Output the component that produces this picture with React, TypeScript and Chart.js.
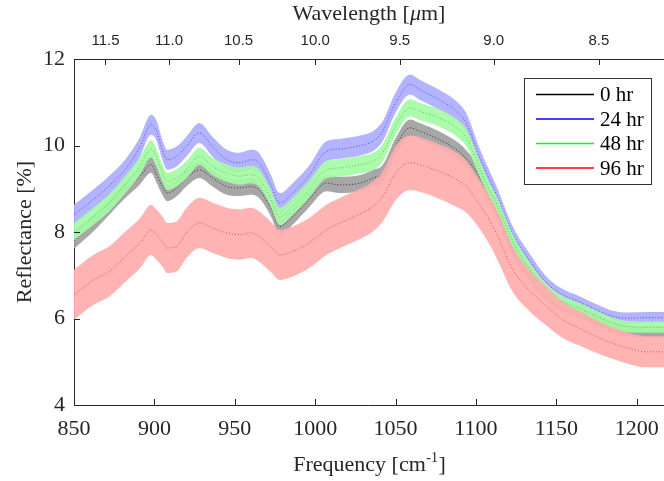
import React, { useEffect, useRef } from 'react';
import { Chart, registerables } from 'chart.js';

Chart.register(...registerables);

// ---------- data ----------
const freq = [850, 862, 872, 882, 891, 898, 901, 905, 908, 914, 920, 928, 936, 945, 953, 960, 965, 972, 978, 986, 996, 1007, 1015, 1028, 1036, 1042, 1050, 1059, 1065, 1077, 1088, 1094, 1102, 1108, 1113, 1123, 1133, 1144, 1154, 1164, 1175, 1185, 1195, 1206, 1216, 1220];

const seriesLabels = ['0 hr', '24 hr', '48 hr', '96 hr'];

const mean0 = [7.8, 8.2, 8.59, 8.98, 9.29, 9.56, 9.36, 9.05, 8.9, 9.02, 9.25, 9.44, 9.25, 9.05, 9.02, 9.05, 8.98, 8.59, 8.13, 8.36, 8.75, 9.13, 9.09, 9.13, 9.25, 9.36, 9.98, 10.41, 10.33, 10.14, 9.9, 9.7, 9.3, 8.85, 8.5, 7.6, 7.05, 6.55, 6.3, 6.15, 5.97, 5.82, 5.72, 5.7, 5.7, 5.7];
const err0 = [0.19, 0.19, 0.19, 0.19, 0.19, 0.19, 0.19, 0.19, 0.19, 0.19, 0.19, 0.19, 0.19, 0.19, 0.19, 0.19, 0.19, 0.19, 0.19, 0.19, 0.19, 0.19, 0.19, 0.19, 0.19, 0.19, 0.19, 0.19, 0.19, 0.19, 0.19, 0.19, 0.18, 0.18, 0.17, 0.16, 0.15, 0.14, 0.13, 0.13, 0.13, 0.13, 0.13, 0.13, 0.13, 0.13];

const mean24 = [8.4, 8.75, 9.07, 9.45, 9.96, 10.48, 10.37, 9.9, 9.67, 9.75, 9.98, 10.29, 9.98, 9.67, 9.6, 9.67, 9.6, 9.13, 8.67, 8.9, 9.29, 9.87, 9.92, 10.0, 10.1, 10.33, 10.99, 11.41, 11.29, 11.06, 10.79, 10.52, 9.75, 9.25, 8.85, 7.95, 7.36, 6.82, 6.55, 6.39, 6.2, 6.05, 6.01, 6.02, 6.02, 6.02];
const err24 = [0.23, 0.23, 0.23, 0.23, 0.23, 0.23, 0.23, 0.23, 0.23, 0.23, 0.23, 0.23, 0.23, 0.23, 0.23, 0.23, 0.23, 0.23, 0.23, 0.23, 0.23, 0.23, 0.23, 0.23, 0.23, 0.23, 0.23, 0.23, 0.23, 0.23, 0.23, 0.23, 0.21, 0.2, 0.19, 0.17, 0.16, 0.14, 0.13, 0.13, 0.13, 0.13, 0.13, 0.13, 0.13, 0.13];

const mean48 = [8.01, 8.36, 8.68, 9.1, 9.52, 9.92, 9.75, 9.36, 9.17, 9.25, 9.44, 9.75, 9.52, 9.36, 9.29, 9.33, 9.25, 8.82, 8.36, 8.59, 8.98, 9.44, 9.48, 9.56, 9.63, 9.83, 10.44, 10.87, 10.79, 10.64, 10.41, 10.18, 9.5, 9.0, 8.65, 7.78, 7.17, 6.66, 6.39, 6.24, 6.05, 5.89, 5.81, 5.8, 5.8, 5.8];
const err48 = [0.2, 0.2, 0.2, 0.2, 0.2, 0.2, 0.2, 0.2, 0.2, 0.2, 0.2, 0.2, 0.2, 0.2, 0.2, 0.2, 0.2, 0.2, 0.2, 0.2, 0.2, 0.2, 0.2, 0.2, 0.2, 0.2, 0.2, 0.2, 0.2, 0.2, 0.2, 0.2, 0.19, 0.18, 0.17, 0.16, 0.15, 0.14, 0.13, 0.13, 0.13, 0.13, 0.13, 0.13, 0.13, 0.13];

const mean96 = [6.55, 6.89, 7.09, 7.43, 7.74, 8.05, 7.95, 7.78, 7.63, 7.67, 7.98, 8.21, 8.1, 7.98, 7.94, 7.98, 7.9, 7.67, 7.47, 7.55, 7.74, 8.05, 8.2, 8.42, 8.59, 8.82, 9.36, 9.6, 9.56, 9.4, 9.21, 9.05, 8.65, 8.3, 7.95, 7.13, 6.66, 6.28, 5.97, 5.78, 5.58, 5.43, 5.31, 5.23, 5.23, 5.23];
const err96 = [0.58, 0.58, 0.58, 0.58, 0.58, 0.58, 0.58, 0.58, 0.58, 0.58, 0.58, 0.58, 0.58, 0.58, 0.58, 0.58, 0.58, 0.58, 0.58, 0.58, 0.58, 0.58, 0.58, 0.58, 0.58, 0.58, 0.63, 0.63, 0.63, 0.63, 0.63, 0.6, 0.56, 0.56, 0.56, 0.52, 0.48, 0.45, 0.42, 0.4, 0.38, 0.36, 0.36, 0.36, 0.36, 0.36];

const freqTicks = [850, 900, 950, 1000, 1050, 1100, 1150, 1200];
const wavelengthTicks = [11.5, 11.0, 10.5, 10.0, 9.5, 9.0, 8.5];
const yTicks = [4, 6, 8, 10, 12];

// ---------- styles ----------
const X_MIN = 850;
const X_MAX = 1217;
const AXIS = '#262626';
const SERIF = '"Liberation Serif", "Times New Roman", serif';
const SANS = '"Liberation Sans", Arial, sans-serif';
const bandColors = ['rgba(160,160,160,0.92)', 'rgba(172,172,255,0.92)', 'rgba(165,250,165,0.92)', 'rgba(255,172,172,0.92)'];
const meanColors = ['rgba(0,0,0,0.7)', 'rgba(0,0,255,0.6)', 'rgba(0,190,0,0.6)', 'rgba(255,0,0,0.6)'];
const legendColors = ['#000000', '#0000ff', '#00ff00', '#ff0000'];

const decorPlugin = {
  id: 'decor',
  afterDraw(chart: any) {
    const { ctx, chartArea: ca, scales } = chart;
    const TL = 6;
    ctx.save();
    // inward tick marks
    ctx.strokeStyle = AXIS;
    ctx.lineWidth = 1;
    ctx.beginPath();
    scales.x.ticks.forEach((t: any) => {
      const px = Math.round(scales.x.getPixelForValue(t.value)) + 0.5;
      ctx.moveTo(px, ca.bottom);
      ctx.lineTo(px, ca.bottom - TL);
    });
    scales.x2.ticks.forEach((t: any) => {
      const px = Math.round(scales.x2.getPixelForValue(t.value)) + 0.5;
      ctx.moveTo(px, ca.top);
      ctx.lineTo(px, ca.top + TL);
    });
    scales.y.ticks.forEach((t: any) => {
      const py = Math.round(scales.y.getPixelForValue(t.value)) + 0.5;
      ctx.moveTo(ca.left, py);
      ctx.lineTo(ca.left + TL, py);
    });
    ctx.stroke();

    // legend
    const bx = 524.5, by = 78.5, bw = 127, bh = 106;
    ctx.fillStyle = '#ffffff';
    ctx.fillRect(bx, by, bw, bh);
    ctx.strokeStyle = '#333333';
    ctx.lineWidth = 1;
    ctx.strokeRect(bx, by, bw, bh);
    ctx.font = `21px ${SERIF}`;
    ctx.textAlign = 'left';
    ctx.textBaseline = 'middle';
    seriesLabels.forEach((lab, i) => {
      const ly = 94.5 + i * 24.5;
      ctx.strokeStyle = legendColors[i];
      ctx.lineWidth = 1.3;
      ctx.beginPath();
      ctx.moveTo(536, ly);
      ctx.lineTo(594, ly);
      ctx.stroke();
      ctx.fillStyle = '#000000';
      ctx.fillText(lab, 600, ly + 1);
    });

    // axis titles
    ctx.fillStyle = AXIS;
    ctx.textBaseline = 'alphabetic';
    const cx = (ca.left + ca.right) / 2;
    // top title: Wavelength [μm] with italic μ
    const nf = `22px ${SERIF}`;
    const itf = `italic 22px ${SERIF}`;
    ctx.font = nf;
    const a1 = 'Wavelength [';
    const a3 = 'm]';
    const w1 = ctx.measureText(a1).width;
    const w3 = ctx.measureText(a3).width;
    ctx.font = itf;
    const w2 = ctx.measureText('μ').width;
    let sx = cx - (w1 + w2 + w3) / 2;
    ctx.textAlign = 'left';
    ctx.font = nf;
    ctx.fillText(a1, sx, 19.5);
    ctx.font = itf;
    ctx.fillText('μ', sx + w1, 19.5);
    ctx.font = nf;
    ctx.fillText(a3, sx + w1 + w2, 19.5);

    // bottom title: Frequency [cm-1]
    const b1 = 'Frequency [cm';
    const b2 = '-1';
    const b3 = ']';
    ctx.font = nf;
    const v1 = ctx.measureText(b1).width;
    const v3 = ctx.measureText(b3).width;
    ctx.font = `14px ${SERIF}`;
    const v2 = ctx.measureText(b2).width;
    sx = cx - (v1 + v2 + v3) / 2;
    const by2 = 471;
    ctx.font = nf;
    ctx.fillText(b1, sx, by2);
    ctx.font = `14px ${SERIF}`;
    ctx.fillText(b2, sx + v1 + 0.5, by2 - 9);
    ctx.font = nf;
    ctx.fillText(b3, sx + v1 + v2 + 1, by2);

    // y title
    ctx.save();
    ctx.translate(31, (ca.top + ca.bottom) / 2);
    ctx.rotate(-Math.PI / 2);
    ctx.textAlign = 'center';
    ctx.font = nf;
    ctx.fillText('Reflectance [%]', 0, 0);
    ctx.restore();

    ctx.restore();
  },
};

export default function App() {
  const ref = useRef<HTMLCanvasElement>(null);

  useEffect(() => {
    if (!ref.current) return;
    const series = [
      { label: seriesLabels[0], mean: mean0, err: err0 },
      { label: seriesLabels[1], mean: mean24, err: err24 },
      { label: seriesLabels[2], mean: mean48, err: err48 },
      { label: seriesLabels[3], mean: mean96, err: err96 },
    ];
    const datasets: any[] = [];
    series.forEach((s, i) => {
      const base = (series.length - 1 - i) * 3;
      datasets.push({
        label: s.label + ' upper',
        data: freq.map((f, k) => ({ x: f, y: s.mean[k] + s.err[k] })),
        borderWidth: 0,
        borderColor: 'rgba(0,0,0,0)',
        pointRadius: 0,
        fill: false,
        order: base + 2,
      });
      datasets.push({
        label: s.label + ' lower',
        data: freq.map((f, k) => ({ x: f, y: s.mean[k] - s.err[k] })),
        borderWidth: 0,
        borderColor: 'rgba(0,0,0,0)',
        backgroundColor: bandColors[i],
        pointRadius: 0,
        fill: '-1',
        order: base + 1,
      });
      datasets.push({
        label: s.label,
        data: freq.map((f, k) => ({ x: f, y: s.mean[k] })),
        borderWidth: 1,
        borderColor: meanColors[i],
        borderDash: [1, 2],
        pointRadius: 0,
        fill: false,
        order: base,
      });
    });

    const chart = new Chart(ref.current, {
      type: 'line',
      data: { datasets },
      plugins: [decorPlugin],
      options: {
        responsive: false,
        animation: false,
        devicePixelRatio: 1,
        layout: { padding: 0 },
        elements: { line: { cubicInterpolationMode: 'monotone' } },
        plugins: {
          legend: { display: false },
          tooltip: { enabled: false },
          title: { display: false },
        },
        scales: {
          x: {
            type: 'linear',
            position: 'bottom',
            min: X_MIN,
            max: X_MAX,
            grid: { display: false, drawTicks: false },
            border: { display: true, color: AXIS, width: 1 },
            ticks: {
              font: { family: SERIF, size: 22 },
              color: AXIS,
              padding: 11,
              maxRotation: 0,
              autoSkip: false,
              callback: (v: any) => String(v),
            },
            afterBuildTicks: (s: any) => {
              s.ticks = freqTicks.map((v) => ({ value: v }));
            },
            afterFit: (s: any) => {
              s.height = 76;
              s.paddingLeft = 0;
              s.paddingRight = 0;
            },
          },
          x2: {
            type: 'linear',
            position: 'top',
            min: X_MIN,
            max: X_MAX,
            grid: { display: false, drawTicks: false },
            border: { display: true, color: AXIS, width: 1 },
            ticks: {
              font: { family: SANS, size: 15 },
              color: AXIS,
              padding: 9,
              maxRotation: 0,
              autoSkip: false,
              callback: (v: any) => (10000 / v).toFixed(1),
            },
            afterBuildTicks: (s: any) => {
              s.ticks = wavelengthTicks.map((w) => ({ value: 10000 / w }));
            },
            afterFit: (s: any) => {
              s.height = 59;
              s.paddingLeft = 0;
              s.paddingRight = 0;
            },
          },
          y: {
            type: 'linear',
            position: 'left',
            min: 4,
            max: 12,
            grid: { display: false, drawTicks: false },
            border: { display: true, color: AXIS, width: 1 },
            ticks: {
              font: { family: SERIF, size: 22 },
              color: AXIS,
              padding: 9,
              callback: (v: any) => String(v),
            },
            afterBuildTicks: (s: any) => {
              s.ticks = yTicks.map((v) => ({ value: v }));
            },
            afterFit: (s: any) => {
              s.width = 74;
              s.paddingTop = 0;
              s.paddingBottom = 0;
            },
          },
        },
      } as any,
    });
    return () => chart.destroy();
  }, []);

  return (
    <div style={{ position: 'fixed', left: 0, top: 0, width: 664, height: 481, background: '#fff' }}>
      <canvas ref={ref} width={664} height={481} style={{ display: 'block', width: 664, height: 481 }} />
    </div>
  );
}
